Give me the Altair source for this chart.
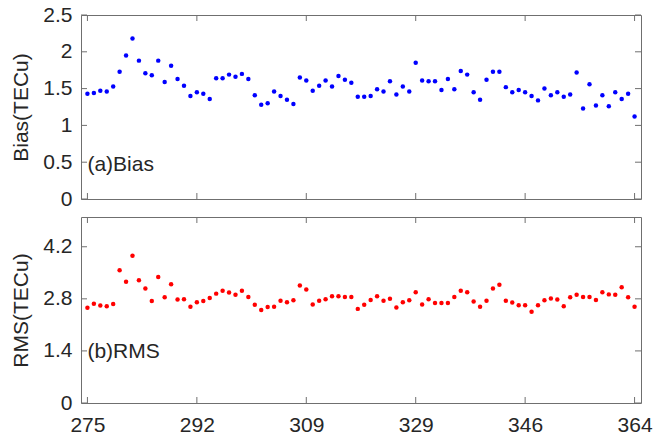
import altair as alt
import pandas as pd

# ---- data (x = sequential sample index) ----
bias = [1.43, 1.44, 1.47, 1.46, 1.53, 1.73, 1.95, 2.18, 1.88, 1.71,
        1.68, 1.88, 1.59, 1.81, 1.63, 1.54, 1.40, 1.45, 1.43, 1.36,
        1.64, 1.64, 1.69, 1.66, 1.70, 1.63, 1.41, 1.28, 1.30, 1.46,
        1.40, 1.35, 1.29, 1.65, 1.61, 1.47, 1.54, 1.61, 1.53, 1.67,
        1.62, 1.58, 1.39, 1.39, 1.40, 1.49, 1.46, 1.60, 1.42, 1.53,
        1.46, 1.85, 1.61, 1.60, 1.60, 1.48, 1.63, 1.49, 1.74, 1.69,
        1.45, 1.35, 1.62, 1.73, 1.73, 1.52, 1.45, 1.48, 1.45, 1.40,
        1.34, 1.50, 1.41, 1.45, 1.39, 1.42, 1.72, 1.23, 1.56, 1.27,
        1.41, 1.26, 1.45, 1.36, 1.43, 1.12]
rms = [2.56, 2.67, 2.62, 2.60, 2.66, 3.57, 3.26, 3.96, 3.30, 3.08,
       2.74, 3.39, 2.84, 3.19, 2.78, 2.79, 2.59, 2.71, 2.74, 2.82,
       2.94, 3.02, 2.97, 2.91, 3.02, 2.85, 2.64, 2.50, 2.58, 2.59,
       2.75, 2.71, 2.76, 3.16, 3.05, 2.65, 2.75, 2.79, 2.87, 2.87,
       2.85, 2.85, 2.53, 2.64, 2.77, 2.87, 2.75, 2.80, 2.57, 2.71,
       2.76, 2.98, 2.65, 2.79, 2.69, 2.69, 2.69, 2.85, 3.02, 2.98,
       2.73, 2.59, 2.75, 3.08, 3.18, 2.75, 2.70, 2.63, 2.63, 2.45,
       2.63, 2.76, 2.81, 2.78, 2.60, 2.84, 2.91, 2.85, 2.85, 2.77,
       2.98, 2.92, 2.91, 3.11, 2.84, 2.59]
idx = list(range(len(bias)))

tick_idx = [0, 17, 34, 51, 68, 85]
tick_labels = ["275", "292", "309", "329", "346", "364"]
bias_ticks = [0, 0.5, 1, 1.5, 2, 2.5]
rms_ticks = [0, 1.4, 2.8, 4.2]

df = pd.DataFrame({"idx": idx, "bias": bias, "rms": rms})

W = 560
FONT = "Liberation Sans, Arial, sans-serif"
FRAME = "#6f6f6f"
TXT = "#262626"

label_expr = "[" + ",".join(f"'{t}'" for t in tick_labels) + "][indexof([" + \
    ",".join(str(v) for v in tick_idx) + "], datum.value)]"


def panel(ycol, color, ydomain, yticks, ytitle, label, label_y, height, show_x):
    if show_x:
        xaxis = alt.Axis(values=tick_idx, labelExpr=label_expr, title=None,
                         labelPadding=11)
    else:
        xaxis = None
    xscale = alt.Scale(domain=[-1, 86], nice=False, zero=False)
    yscale = alt.Scale(domain=ydomain, nice=False, zero=False)
    yaxis = alt.Axis(values=yticks, title=ytitle,
                     labelExpr="format(datum.value, '.2~f')",
                     labelPadding=9, titleX=-50, titleY=height / 2,
                     titleAngle=270, titleAlign="center", titleBaseline="bottom")
    X = alt.X("idx:Q", scale=xscale, axis=xaxis)
    Y = alt.Y(f"{ycol}:Q", scale=yscale, axis=yaxis)

    pts = alt.Chart(df).mark_circle(size=20, color=color, opacity=1).encode(x=X, y=Y)

    lab = alt.Chart(pd.DataFrame({"idx": [0], ycol: [label_y], "t": [label]})).mark_text(
        align="left", baseline="middle", fontSize=21, font=FONT, color=TXT
    ).encode(x=X, y=Y, text="t:N")

    xt = pd.DataFrame({"idx": tick_idx})
    yt = pd.DataFrame({ycol: yticks})
    tk = dict(color=FRAME, strokeWidth=1)
    top_t = alt.Chart(xt).mark_rule(**tk).encode(x=X, y=alt.value(0), y2=alt.value(6))
    bot_t = alt.Chart(xt).mark_rule(**tk).encode(x=X, y=alt.value(height - 6), y2=alt.value(height))
    left_t = alt.Chart(yt).mark_rule(**tk).encode(y=Y, x=alt.value(0), x2=alt.value(6))
    right_t = alt.Chart(yt).mark_rule(**tk).encode(y=Y, x=alt.value(W - 6), x2=alt.value(W))

    return alt.layer(top_t, bot_t, left_t, right_t, pts, lab).properties(width=W, height=height)


top = panel("bias", "#0000ff", [0, 2.5], bias_ticks, "Bias(TECu)", "(a)Bias", 0.46, 184, False)
bottom = panel("rms", "#ff0000", [0, 5], rms_ticks, "RMS(TECu)", "(b)RMS", 1.38, 186, True)

chart = alt.vconcat(top, bottom, spacing=6).properties(
    padding={"left": 9, "top": 3, "right": 5, "bottom": 2},
    background="white",
).configure_view(
    stroke=FRAME, strokeWidth=1
).configure_axis(
    grid=False, domain=False, ticks=False,
    labelFont=FONT, labelFontSize=21, labelColor=TXT,
    titleFont=FONT, titleFontSize=21, titleFontWeight="normal", titleColor=TXT,
)

chart.save("out.html", embed_options={"renderer": "svg", "actions": False})
